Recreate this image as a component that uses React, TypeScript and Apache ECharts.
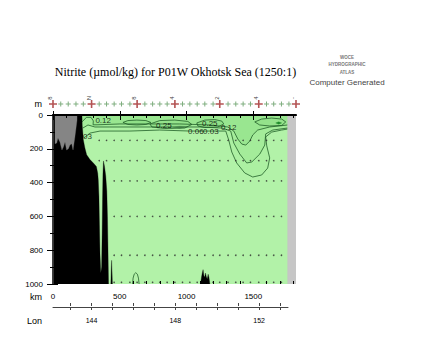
import React, { useEffect, useRef } from "react";
import * as echarts from "echarts";

const TITLE = "Nitrite (µmol/kg) for P01W Okhotsk Sea (1250:1)";
const KM_MAX = 1820;
const DEPTH_MAX = 1000;
const kmLabels = [0, 500, 1000, 1500];
const kmMinor = [100, 200, 300, 400, 600, 700, 800, 900, 1100, 1200, 1300, 1400, 1600, 1700, 1800];
const lonTicks = [143, 144, 145, 146, 147, 148, 149, 150, 151, 152, 153];
const lonLabels = [144, 148, 152];
const LON_MIN = 142.16;
const LON_MAX = 153.38;

const stationKm = [0, 58, 114, 172, 227, 289, 346, 401, 458, 513, 576, 630, 688, 746, 800, 855, 913, 970, 1025, 1080, 1137, 1199, 1249, 1311, 1369, 1424, 1479, 1541, 1599, 1653, 1711, 1767, 1820];
const majorStationIdx = [0, 5, 11, 16, 22, 27, 32];
const stationTags = ["8", "N", "8", "4", "2", "4", "-"];
const bottleDepths = [150, 270, 390, 600, 830, 990];

const bathyMain = [[0, 0], [217, 0], [219, 60], [224, 110], [227, 146], [239, 195], [252, 235], [277, 264], [302, 284], [325, 305], [335, 345], [339, 383], [344, 480], [348, 650], [352, 820], [358, 935], [364, 900], [368, 700], [371, 500], [374, 350], [378, 272], [385, 300], [395, 360], [403, 450], [408, 600], [411, 750], [414, 900], [416, 1000], [0, 1000]];
const bathySpike = [[433, 1000], [437, 900], [439, 860], [441, 900], [445, 1000]];
const bathyRidge = [[1105, 1000], [1112, 960], [1118, 935], [1124, 915], [1130, 950], [1136, 960], [1142, 935], [1148, 955], [1155, 970], [1162, 942], [1168, 960], [1175, 1000]];
const noDataLeft = [[15, 0], [180, 0], [180, 30], [164, 130], [150, 207], [140, 170], [127, 178], [115, 200], [102, 207], [90, 160], [78, 190], [67, 207], [52, 160], [37, 136], [28, 166], [15, 170]];
const noDataRight = [[1757, 0], [1820, 0], [1820, 1000], [1757, 1000]];

const c003 = [[232, 136], [277, 107], [352, 95], [576, 95], [800, 89], [1025, 95], [1174, 95], [1294, 95], [1316, 148], [1339, 219], [1376, 284], [1436, 343], [1496, 367], [1563, 355], [1608, 314], [1623, 254], [1601, 183], [1593, 130], [1638, 101], [1713, 89], [1758, 83]];
const c006 = [[224, 77], [262, 59], [314, 71], [426, 71], [651, 71], [913, 71], [1100, 71], [1264, 77], [1331, 95], [1354, 166], [1399, 231], [1451, 284], [1489, 278], [1549, 231], [1586, 178], [1593, 112], [1646, 89], [1758, 77]];
const c012 = [[219, 40], [250, 14], [285, 14], [302, 35], [300, 58], [330, 58], [501, 53], [726, 53], [950, 53], [1174, 59], [1309, 71], [1354, 95], [1384, 142], [1414, 172], [1444, 178], [1474, 154], [1496, 118], [1533, 89], [1623, 71], [1758, 59]];
const loopA = [[524, 44], [561, 33], [628, 30], [696, 33], [733, 44], [696, 56], [628, 59], [561, 56], [524, 44]];
const loopB = [[726, 53], [800, 33], [913, 30], [1010, 38], [1040, 56], [987, 77], [838, 80], [741, 71], [726, 53]];
const loopC = [[1077, 47], [1137, 30], [1212, 27], [1264, 36], [1279, 53], [1234, 71], [1137, 74], [1085, 65], [1077, 47]];
const loopD = [[1511, 41], [1563, 24], [1638, 18], [1713, 24], [1743, 41], [1713, 62], [1623, 65], [1548, 59], [1511, 41]];
const patchE = [[898, 72], [950, 65], [1010, 70], [950, 80], [898, 72]];
const spotF = [[1668, 47], [1690, 40], [1713, 47], [1690, 54], [1668, 47]];
const dome = [[596, 1000], [600, 965], [608, 942], [620, 933], [632, 942], [640, 965], [645, 1000]];

const contourLabels = [
  { km: 376, m: 30, text: "0.12" },
  { km: 830, m: 65, text: "0.25" },
  { km: 1174, m: 50, text: "0.25" },
  { km: 1070, m: 100, text: "0.06" },
  { km: 1182, m: 100, text: "0.03" },
  { km: 1316, m: 75, text: "0.12" },
  { km: 258, m: 130, text: "03" },
];

const SANS = "Liberation Sans, Arial, sans-serif";
const plain = (v: number) => String(v);

function polygonSeries(pts: number[][], fill: string, z: number) {
  return {
    type: "custom",
    xAxisIndex: 0,
    yAxisIndex: 0,
    z,
    silent: true,
    clip: true,
    data: [[pts[0][0], pts[0][1]]],
    renderItem: (_p: any, api: any) => ({
      type: "polygon",
      shape: { points: pts.map((p) => api.coord(p)) },
      style: { fill, stroke: fill, lineWidth: 0.3 },
    }),
  };
}

function lineSeries(pts: number[][], color = "#22602a", width = 0.8, z = 4) {
  return {
    type: "line",
    xAxisIndex: 0,
    yAxisIndex: 0,
    data: pts,
    showSymbol: false,
    symbol: "none",
    lineStyle: { color, width },
    z,
    silent: true,
    clip: true,
  };
}

export default function App() {
  const ref = useRef<HTMLDivElement>(null);
  useEffect(() => {
    if (!ref.current) return;
    const chart = echarts.init(ref.current, null, { renderer: "svg" });

    const dots: number[][] = [];
    bottleDepths.forEach((d) => {
      stationKm.forEach((k) => {
        const limit = d <= 300 ? 320 : 430;
        if (k >= limit && k <= 1740) dots.push([k, d]);
      });
    });

    const grid = { left: 53, top: 115, width: 243, height: 169 };
    const option: any = {
      animation: false,
      grid: [
        { ...grid, show: true, backgroundColor: "#b2f2a8", borderWidth: 0 },
        { ...grid },
        { left: 53, top: 100, width: 243, height: 8 },
        { left: 53, top: 306, width: 235, height: 1 },
      ],
      xAxis: [
        {
          gridIndex: 0, type: "value", position: "bottom", min: 0, max: KM_MAX, z: 10,
          splitLine: { show: false },
          axisLine: { lineStyle: { color: "#000", width: 1 } },
          axisTick: { customValues: kmLabels, length: 5, lineStyle: { color: "#000" } },
          axisLabel: { customValues: kmLabels, formatter: plain, fontSize: 8, color: "#000", margin: 8, fontFamily: SANS },
        },
        {
          gridIndex: 0, type: "value", position: "top", min: 0, max: KM_MAX, z: 10,
          splitLine: { show: false },
          axisLine: { lineStyle: { color: "#000", width: 2 } },
          axisTick: { customValues: kmLabels, length: 4, lineStyle: { color: "#000" } },
          axisLabel: { show: false },
        },
        {
          gridIndex: 1, type: "value", position: "bottom", min: 0, max: KM_MAX, z: 10,
          splitLine: { show: false },
          axisLine: { show: false },
          axisTick: { customValues: kmMinor, inside: true, length: 3, lineStyle: { color: "#000" } },
          axisLabel: { show: false },
        },
        {
          gridIndex: 1, type: "value", position: "top", min: 0, max: KM_MAX, z: 10,
          splitLine: { show: false },
          axisLine: { show: false },
          axisTick: { customValues: kmMinor, inside: true, length: 3, lineStyle: { color: "#000" } },
          axisLabel: { show: false },
        },
        { gridIndex: 2, type: "value", min: 0, max: KM_MAX, show: false },
        {
          gridIndex: 3, type: "value", position: "bottom", min: LON_MIN, max: LON_MAX,
          splitLine: { show: false },
          axisLine: { lineStyle: { color: "#444", width: 1 } },
          axisTick: { customValues: lonTicks, length: 3, lineStyle: { color: "#444" } },
          axisLabel: { customValues: lonLabels, formatter: plain, fontSize: 7, color: "#000", margin: 10, fontFamily: SANS },
        },
        {
          gridIndex: 3, type: "value", position: "top", min: LON_MIN, max: LON_MAX,
          splitLine: { show: false },
          axisLine: { show: false },
          axisTick: { customValues: lonTicks, length: 3, lineStyle: { color: "#444" } },
          axisLabel: { show: false },
        },
      ],
      yAxis: [
        {
          gridIndex: 0, type: "value", position: "left", inverse: true, min: 0, max: DEPTH_MAX, interval: 200, z: 10,
          splitLine: { show: false },
          axisLine: { lineStyle: { color: "#000", width: 1.5 } },
          axisTick: { length: 6, lineStyle: { color: "#000" } },
          minorTick: { show: true, splitNumber: 2, length: 3, lineStyle: { color: "#000" } },
          axisLabel: { formatter: plain, fontSize: 8, color: "#000", margin: 10, fontFamily: SANS },
        },
        {
          gridIndex: 0, type: "value", position: "right", inverse: true, min: 0, max: DEPTH_MAX, interval: 200, z: 10,
          splitLine: { show: false },
          axisLine: { lineStyle: { color: "#333", width: 1 } },
          axisTick: { length: 5, lineStyle: { color: "#000" } },
          minorTick: { show: true, splitNumber: 2, length: 2, lineStyle: { color: "#000" } },
          axisLabel: { show: false },
        },
        { gridIndex: 1, type: "value", min: 0, max: DEPTH_MAX, show: false },
        { gridIndex: 2, type: "value", min: -1, max: 1, show: false },
        { gridIndex: 3, type: "value", min: 0, max: 1, show: false },
      ],
      series: [
        polygonSeries([[215, 0], ...c003, [1757, 0]], "#acf0a2", 1),
        polygonSeries([[215, 0], ...c006, [1757, 0]], "#a4ec9a", 1),
        polygonSeries([[215, 0], ...c012, [1757, 0]], "#99e690", 1),
        polygonSeries(loopA, "#90e088", 2),
        polygonSeries(loopB, "#94e28b", 2),
        polygonSeries(loopC, "#90e088", 2),
        polygonSeries(loopD, "#94e28b", 2),
        polygonSeries(patchE, "#6aa86a", 3),
        polygonSeries(spotF, "#1e8a2a", 3),
        lineSeries(c003),
        lineSeries(c006),
        lineSeries(c012),
        lineSeries(loopA),
        lineSeries(loopB),
        lineSeries(loopC),
        lineSeries(loopD),
        lineSeries(dome),
        {
          type: "scatter", xAxisIndex: 0, yAxisIndex: 0, data: dots, symbolSize: 1.6,
          itemStyle: { color: "#2a2a2a" }, z: 5, silent: true,
        },
        polygonSeries(bathyMain, "#000000", 6),
        polygonSeries(bathySpike, "#000000", 6),
        polygonSeries(bathyRidge, "#000000", 6),
        polygonSeries(noDataLeft, "#858585", 7),
        polygonSeries(noDataRight, "#c6c6c6", 7),
        {
          type: "scatter", xAxisIndex: 0, yAxisIndex: 0, z: 8, silent: true,
          data: contourLabels.map((l) => ({ value: [l.km, l.m], name: l.text })),
          symbolSize: 1, itemStyle: { color: "transparent" },
          label: {
            show: true, position: "inside", formatter: (p: any) => p.name,
            fontSize: 8, color: "#000", fontFamily: SANS,
          },
        },
        {
          type: "scatter", xAxisIndex: 4, yAxisIndex: 3, z: 8, silent: true, clip: false,
          data: stationKm.filter((_, i) => !majorStationIdx.includes(i)).map((k) => [k, 0]),
          symbol: "path://M2,0H3V2H5V3H3V5H2V3H0V2H2Z", symbolSize: 5,
          itemStyle: { color: "#5f9a5f" },
        },
        {
          type: "scatter", xAxisIndex: 4, yAxisIndex: 3, z: 8, silent: true, clip: false,
          data: majorStationIdx.map((i, j) => ({ value: [stationKm[i], 0], name: stationTags[j] })),
          symbol: "path://M2,0H3V2H5V3H3V5H2V3H0V2H2Z", symbolSize: 8,
          itemStyle: { color: "#a02828" },
          label: {
            show: true, position: "top", distance: 2, rotate: 90, formatter: (p: any) => p.name,
            fontSize: 6, color: "#000", fontFamily: SANS,
          },
        },
      ],
      graphic: [
        {
          type: "text", x: 175.5, y: 72,
          style: { text: TITLE, fontSize: 12, fontFamily: "Liberation Serif, serif", fill: "#000", align: "center", verticalAlign: "middle" },
        },
        { type: "text", x: 347, y: 57, style: { text: "WOCE", fontSize: 4.5, fontWeight: "bold", fontFamily: SANS, fill: "#777", align: "center", verticalAlign: "middle" } },
        { type: "text", x: 347, y: 64.5, style: { text: "HYDROGRAPHIC", fontSize: 4.5, fontWeight: "bold", fontFamily: SANS, fill: "#777", align: "center", verticalAlign: "middle" } },
        { type: "text", x: 347, y: 72, style: { text: "ATLAS", fontSize: 4.5, fontWeight: "bold", fontFamily: SANS, fill: "#777", align: "center", verticalAlign: "middle" } },
        { type: "text", x: 347, y: 82, style: { text: "Computer Generated", fontSize: 8, fontFamily: SANS, fill: "#444", align: "center", verticalAlign: "middle" } },
        { type: "text", x: 42, y: 104, style: { text: "m", fontSize: 9, fontFamily: SANS, fill: "#000", align: "right", verticalAlign: "middle" } },
        { type: "text", x: 42, y: 297, style: { text: "km", fontSize: 9, fontFamily: SANS, fill: "#000", align: "right", verticalAlign: "middle" } },
        { type: "text", x: 42, y: 321, style: { text: "Lon", fontSize: 9, fontFamily: SANS, fill: "#000", align: "right", verticalAlign: "middle" } },
      ],
    };
    chart.setOption(option);
    return () => chart.dispose();
  }, []);
  return <div ref={ref} style={{ width: 430, height: 350, position: "absolute", left: 0, top: 0, background: "#fff" }} />;
}
